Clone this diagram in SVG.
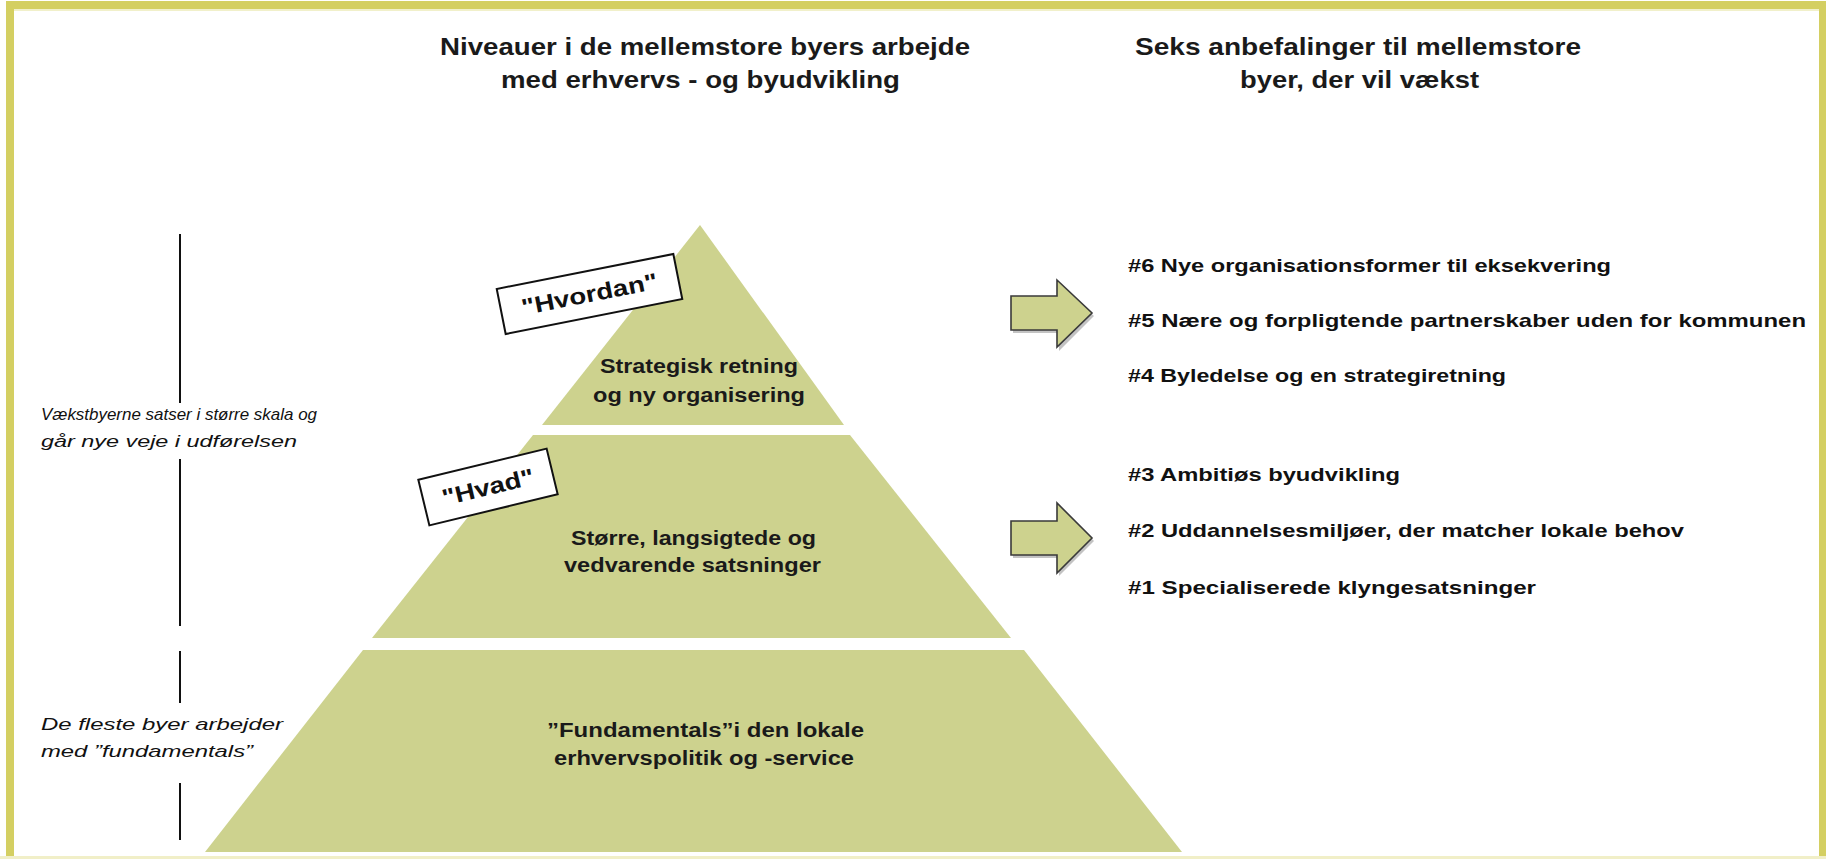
<svg xmlns="http://www.w3.org/2000/svg" width="1826" height="859" viewBox="0 0 1826 859">
<style>
.frame{fill:none;stroke:#d4cf62;stroke-width:8}
.tier{fill:#cdd28e}
.hdr{font-family:"Liberation Sans",Arial,sans-serif;font-weight:bold;font-size:24px;fill:#1a1a1a}
.pt{font-family:"Liberation Sans",Arial,sans-serif;font-weight:bold;font-size:20px;fill:#1a1a1a}
.li{font-family:"Liberation Sans",Arial,sans-serif;font-weight:bold;font-size:19px;fill:#111}
.side{font-family:"Liberation Sans",Arial,sans-serif;font-style:italic;font-size:17px;fill:#111}
.tag{fill:#fff;stroke:#111;stroke-width:2}
.tagt{font-family:"Liberation Sans",Arial,sans-serif;font-weight:bold;font-size:23px;fill:#111}
.vline{stroke:#111;stroke-width:2}
.arrow{fill:#cdd28e;stroke:#3a3a3a;stroke-width:1.6;stroke-linejoin:miter}
.ashadow{fill:#888;opacity:0.5}
</style>
<rect width="1826" height="859" fill="#fff"/>
<rect class="frame" x="10" y="5" width="1813" height="870"/>
<line x1="14" y1="10" x2="1819" y2="10" stroke="#ecebb8" stroke-width="1.5"/>
<line x1="0" y1="857.5" x2="1826" y2="857.5" stroke="#f1efc8" stroke-width="3"/>

<g id="headers">
<text class="hdr" x="440" y="55" textLength="530" lengthAdjust="spacingAndGlyphs">Niveauer i de mellemstore byers arbejde</text>
<text class="hdr" x="501" y="88" textLength="399" lengthAdjust="spacingAndGlyphs">med erhvervs - og byudvikling</text>
<text class="hdr" x="1135" y="55" textLength="446" lengthAdjust="spacingAndGlyphs">Seks anbefalinger til mellemstore</text>
<text class="hdr" x="1240" y="88" textLength="239" lengthAdjust="spacingAndGlyphs">byer, der vil vækst</text>
</g>

<g id="side-labels">
<line class="vline" x1="180" y1="234" x2="180" y2="403"/>
<line class="vline" x1="180" y1="459" x2="180" y2="626"/>
<line class="vline" x1="180" y1="651" x2="180" y2="703"/>
<line class="vline" x1="180" y1="783" x2="180" y2="840"/>
<text class="side" x="41" y="420" textLength="276" lengthAdjust="spacingAndGlyphs">Vækstbyerne satser i større skala og</text>
<text class="side" x="41" y="447" textLength="256" lengthAdjust="spacingAndGlyphs">går nye veje i udførelsen</text>
<text class="side" x="41" y="730" textLength="242" lengthAdjust="spacingAndGlyphs">De fleste byer arbejder</text>
<text class="side" x="41" y="757" textLength="212" lengthAdjust="spacingAndGlyphs">med ”fundamentals”</text>
</g>

<g id="tier-top">
<polygon class="tier" points="700,225 844,425 542,425"/>
<text class="pt" x="600" y="373" textLength="198" lengthAdjust="spacingAndGlyphs">Strategisk retning</text>
<text class="pt" x="593" y="402" textLength="212" lengthAdjust="spacingAndGlyphs">og ny organisering</text>
</g>

<g id="tier-middle">
<polygon class="tier" points="533,435 850,435 1011,638 372,638"/>
<text class="pt" x="571" y="545" textLength="245" lengthAdjust="spacingAndGlyphs">Større, langsigtede og</text>
<text class="pt" x="564" y="572" textLength="257" lengthAdjust="spacingAndGlyphs">vedvarende satsninger</text>
</g>

<g id="tier-bottom">
<polygon class="tier" points="363,650 1024,650 1182,852 205,852"/>
<text class="pt" x="547" y="737" textLength="317" lengthAdjust="spacingAndGlyphs">”Fundamentals”i den lokale</text>
<text class="pt" x="554" y="765" textLength="300" lengthAdjust="spacingAndGlyphs">erhvervspolitik og -service</text>
</g>

<g id="tag-hvordan" transform="translate(589.5,294) rotate(-11.2)">
<rect class="tag" x="-90" y="-23" width="180" height="46"/>
<text class="tagt" x="0" y="8" text-anchor="middle" textLength="138" lengthAdjust="spacingAndGlyphs">"Hvordan"</text>
</g>

<g id="tag-hvad" transform="translate(488,487) rotate(-13.6)">
<rect class="tag" x="-66" y="-23.5" width="132" height="47"/>
<text class="tagt" x="0" y="8" text-anchor="middle" textLength="94" lengthAdjust="spacingAndGlyphs">"Hvad"</text>
</g>

<g id="connectors">
<polygon class="ashadow" points="1013,298 1059,298 1059,283 1094,316 1059,351 1059,333 1013,333"/>
<polygon class="arrow" points="1011,296 1057,296 1057,280 1092,313 1057,347 1057,330 1011,330"/>
<polygon class="ashadow" points="1013,523 1059,523 1059,506 1094,541 1059,576 1059,558 1013,558"/>
<polygon class="arrow" points="1011,521 1057,521 1057,503 1092,538 1057,573 1057,555 1011,555"/>
</g>

<g id="recs-upper">
<text class="li" x="1128" y="272" textLength="483" lengthAdjust="spacingAndGlyphs">#6 Nye organisationsformer til eksekvering</text>
<text class="li" x="1128" y="327" textLength="678" lengthAdjust="spacingAndGlyphs">#5 Nære og forpligtende partnerskaber uden for kommunen</text>
<text class="li" x="1128" y="382" textLength="378" lengthAdjust="spacingAndGlyphs">#4 Byledelse og en strategiretning</text>
</g>

<g id="recs-lower">
<text class="li" x="1128" y="481" textLength="272" lengthAdjust="spacingAndGlyphs">#3 Ambitiøs  byudvikling</text>
<text class="li" x="1128" y="537" textLength="556" lengthAdjust="spacingAndGlyphs">#2 Uddannelsesmiljøer, der matcher lokale behov</text>
<text class="li" x="1128" y="594" textLength="408" lengthAdjust="spacingAndGlyphs">#1 Specialiserede klyngesatsninger</text>
</g>
</svg>
